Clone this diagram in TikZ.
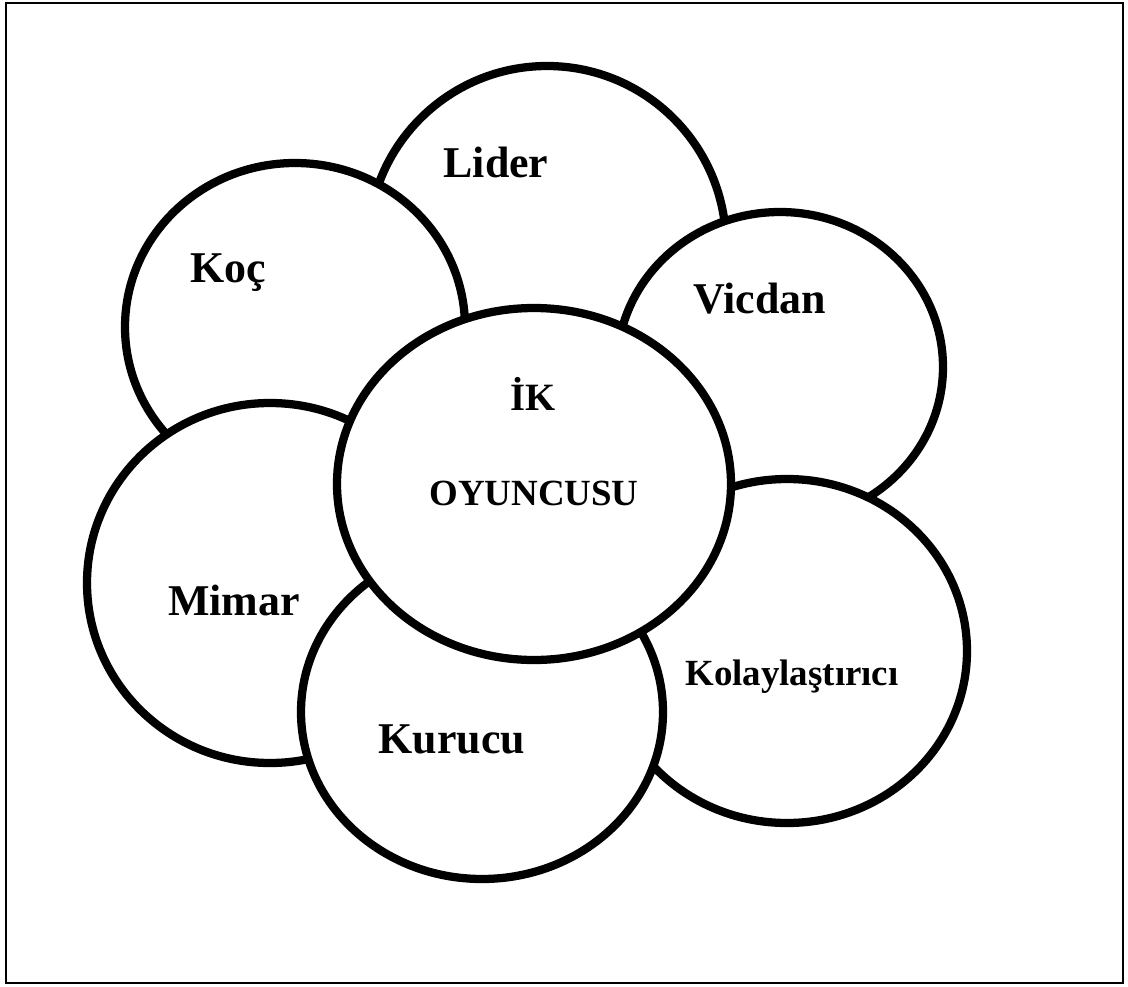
\documentclass[tikz,border=0pt]{standalone}
\usepackage{fontspec}
\setmainfont{Liberation Serif}
\usepackage{tikz}

\begin{document}
\begin{tikzpicture}[x=2cm,y=-2cm,
  petal/.style={draw=black,fill=white,line width=4.7pt},
  lbl/.style={font=\fontsize{25}{30}\selectfont\bfseries,anchor=base,inner sep=0pt},
  smalllbl/.style={lbl,font=\fontsize{21}{25}\selectfont\bfseries}]
\useasboundingbox[fill=white] (0,0) rectangle (11.28,9.87);
\draw[line width=0.8pt] (0.06,0.03) rectangle (11.23,9.83);
% petals, back to front
\filldraw[petal] (5.47,2.45) ellipse (1.79 and 1.79);
\filldraw[petal] (2.95,3.27) ellipse (1.70 and 1.64);
\filldraw[petal] (7.80,3.67) ellipse (1.63 and 1.55);
\filldraw[petal] (2.70,5.83) ellipse (1.83 and 1.80);
\filldraw[petal] (7.87,6.51) ellipse (1.80 and 1.72);
\filldraw[petal] (4.82,7.12) ellipse (1.81 and 1.67);
% middle
\filldraw[petal] (5.34,4.84) ellipse (1.97 and 1.76);
% labels
\node[lbl] (lider) at (4.96,1.77) {Lider};
\node[lbl] (koc) at (2.28,2.82) {Koç};
\node[lbl] (vicdan) at (7.60,3.13) {Vicdan};
\node[lbl] (mimar) at (2.34,6.15) {Mimar};
\node[lbl] (kurucu) at (4.52,7.53) {Kurucu};
\node[smalllbl] (kolay) at (7.92,6.85) {Kolaylaştırıcı};
\node[smalllbl,font=\fontsize{22}{26}\selectfont\bfseries] (ik) at (5.33,4.10) {İK};
\node[smalllbl] (oyuncu) at (5.34,5.05) {OYUNCUSU};
\end{tikzpicture}
\end{document}
